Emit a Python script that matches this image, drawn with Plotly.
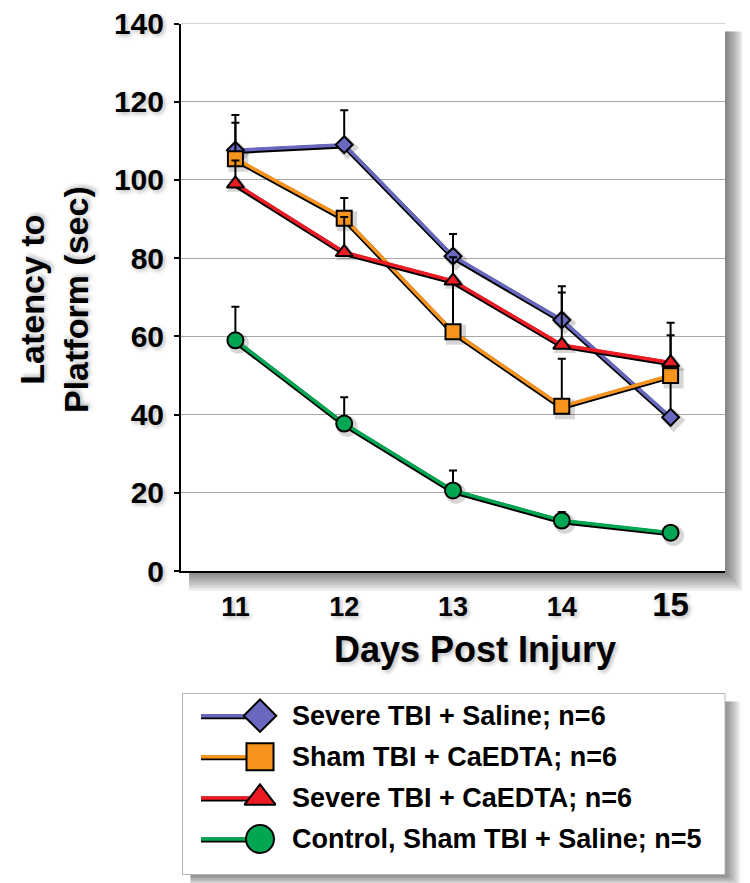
import plotly.graph_objects as go

# ---------------- data ----------------
days = [11, 12, 13, 14, 15]
tick_labels = ["11", "12", "13", "14", "15"]
y_ticks = [0, 20, 40, 60, 80, 100, 120, 140]

series_names = [
    "Severe TBI + Saline; n=6",
    "Sham TBI + CaEDTA; n=6",
    "Severe TBI + CaEDTA; n=6",
    "Control, Sham TBI + Saline; n=5",
]
severe_saline = [107.6, 109.0, 80.5, 64.2, 39.3]
severe_saline_err = [9.0, 8.8, 5.7, 8.6, 11.0]
sham_caedta = [105.4, 90.2, 61.2, 42.1, 50.0]
sham_caedta_err = [9.2, 5.2, 13.0, 12.2, 10.3]
severe_caedta = [99.0, 81.5, 74.2, 57.8, 53.3]
severe_caedta_err = [6.0, 9.0, 6.0, 13.4, 10.2]
control = [59.0, 37.7, 20.6, 12.9, 9.8]
control_err = [8.6, 6.7, 5.1, 2.2, 0.8]

# ---------------- style ----------------
OFF = 8                      # page body margin of the html page
W, H = 750 - OFF, 883 - OFF  # figure size so the page fits the window
FONT = "Liberation Sans, Arial, Helvetica, sans-serif"
colors = ["#6868BE", "#F7941D", "#ED1C24", "#00A651"]
symbols = ["diamond", "square", "triangle-up", "circle"]
msizes = [13, 15, 15, 16]
leg_msizes = [25, 27, 27, 28]
values = [severe_saline, sham_caedta, severe_caedta, control]
errors = [severe_saline_err, sham_caedta_err, severe_caedta_err, control_err]

# plot area (window pixels)
PL, PR, PT, PB = 181, 725, 23.5, 571
X_RANGE = [10.5, 15.5]
Y_RANGE = [0, 140]
GRID = "#A8A8A8"
# legend box (window pixels)
LL, LR, LT, LB = 182.5, 725, 693.5, 874.5
leg_rows = [715.7, 756.8, 797.9, 839.0]
leg_line_x = [201, 260]
leg_text_x = 289.5

# pixel -> data unit factors, used for small style offsets (shadows)
ux = (X_RANGE[1] - X_RANGE[0]) / (PR - PL)
uy = (Y_RANGE[1] - Y_RANGE[0]) / (PB - PT)


def px(x):
    return (x - OFF) / W


def py(y):
    return 1 - (y - OFF) / H


TXT_SHADOW = "2px 2px 4px rgba(0,0,0,0.28)"

fig = go.Figure()

# main series
for name, col, sym, ms, v, e in zip(series_names, colors, symbols, msizes, values, errors):
    # soft marker shadow
    fig.add_trace(go.Scatter(
        x=[d + 3 * ux for d in days], y=[val - 3 * uy for val in v], mode="markers",
        marker=dict(symbol=sym, size=ms + 5, color="rgba(0,0,0,0.16)", line=dict(width=0)),
        hoverinfo="skip", showlegend=False, xaxis="x", yaxis="y"))
    fig.add_trace(go.Scatter(
        x=days, y=[val - 1.2 * uy for val in v], mode="lines",
        line=dict(color="black", width=5),
        hoverinfo="skip", showlegend=False, xaxis="x", yaxis="y"))
    fig.add_trace(go.Scatter(
        x=days, y=v, mode="lines+markers", name=name,
        line=dict(color=col, width=3.5),
        marker=dict(symbol=sym, size=ms, color=col, line=dict(color="black", width=2)),
        error_y=dict(type="data", symmetric=False, array=e, arrayminus=[0] * len(e),
                     color="black", thickness=2, width=4),
        showlegend=False, xaxis="x", yaxis="y"))

# manual legend glyphs (overlay axis in window pixels)
for i, (col, sym, ms) in enumerate(zip(colors, symbols, leg_msizes)):
    row = leg_rows[i]
    fig.add_trace(go.Scatter(
        x=leg_line_x, y=[row + 1, row + 1], mode="lines", line=dict(color="black", width=5),
        hoverinfo="skip", showlegend=False, xaxis="x2", yaxis="y2"))
    fig.add_trace(go.Scatter(
        x=leg_line_x, y=[row, row], mode="lines", line=dict(color=col, width=3.5),
        hoverinfo="skip", showlegend=False, xaxis="x2", yaxis="y2"))
    fig.add_trace(go.Scatter(
        x=[leg_line_x[1]], y=[row], mode="markers",
        marker=dict(symbol=sym, size=ms, color=col, line=dict(color="black", width=2)),
        hoverinfo="skip", showlegend=False, xaxis="x2", yaxis="y2"))

shapes = []
# plot area shadow
for k in range(10):
    shapes.append(dict(type="rect", xref="paper", yref="paper", layer="below",
                       x0=px(PL + 8), x1=px(PR + 2 + k * 1.8),
                       y0=py(PB + 2 + k * 2.0), y1=py(PT + 8),
                       fillcolor="black", opacity=0.06, line=dict(width=0)))
shapes.append(dict(type="rect", xref="paper", yref="paper", layer="below",
                   x0=px(PL), x1=px(PR), y0=py(PB), y1=py(PT),
                   fillcolor="white", line=dict(width=0)))
# top gridline (at the range end)
shapes.append(dict(type="line", xref="x domain", yref="y", layer="below",
                   x0=0, x1=1, y0=Y_RANGE[1], y1=Y_RANGE[1],
                   line=dict(color=GRID, width=1)))
# legend box shadow
for k in range(10):
    shapes.append(dict(type="rect", xref="paper", yref="paper", layer="below",
                       x0=px(LL + 8), x1=px(LR + 2 + k * 1.5),
                       y0=py(LB + 2 + k * 1.0), y1=py(LT + 8),
                       fillcolor="black", opacity=0.05, line=dict(width=0)))
shapes.append(dict(type="rect", xref="paper", yref="paper", layer="below",
                   x0=px(LL), x1=px(LR), y0=py(LB), y1=py(LT),
                   fillcolor="white", line=dict(color="#B4B4B4", width=1)))

annotations = []
for i, name in enumerate(series_names):
    annotations.append(dict(
        text=f"<b>{name}</b>", xref="paper", yref="paper",
        x=px(leg_text_x), y=py(leg_rows[i]), xanchor="left", yanchor="middle",
        showarrow=False, font=dict(family=FONT, size=27, color="black")))

annotations.append(dict(
    text="<b>Days Post Injury</b>", xref="paper", yref="paper",
    x=px(475), y=py(649), xanchor="center", yanchor="middle", showarrow=False,
    font=dict(family=FONT, size=36, color="black", shadow=TXT_SHADOW)))
annotations.append(dict(
    text="<b>Latency to<br>Platform (sec)</b>", xref="paper", yref="paper",
    x=px(54), y=py(300), xanchor="center", yanchor="middle", showarrow=False,
    textangle=-90,
    font=dict(family=FONT, size=34, color="black", shadow=TXT_SHADOW)))

xtext = [t if t != "15" else '<span style="font-size:33px">15</span>' for t in tick_labels]

fig.update_layout(
    width=W, height=H,
    margin=dict(l=0, r=0, t=0, b=0, pad=0, autoexpand=False),
    paper_bgcolor="white", plot_bgcolor="rgba(0,0,0,0)",
    font=dict(family=FONT, color="black"),
    showlegend=False,
    shapes=shapes, annotations=annotations,
    xaxis=dict(domain=[px(PL), px(PR)], range=X_RANGE, automargin=False,
               tickvals=days, ticktext=[f"<b>{t}</b>" for t in xtext],
               tickfont=dict(family=FONT, size=27, color="black", shadow=TXT_SHADOW),
               showgrid=False, zeroline=False, showline=True, linecolor="black",
               linewidth=2, ticks="", ticklabelstandoff=11, ticklabeloverflow="allow",
               anchor="y"),
    yaxis=dict(domain=[py(PB), py(PT)], range=Y_RANGE, tickvals=y_ticks, automargin=False,
               ticktext=[f"<b>{t}</b>" for t in y_ticks],
               tickfont=dict(family=FONT, size=30, color="black", shadow=TXT_SHADOW),
               showgrid=True, gridcolor=GRID, gridwidth=1,
               zeroline=False, showline=True, linecolor="black", linewidth=2,
               ticks="outside", ticklen=5, tickwidth=2, tickcolor="black",
               ticklabelstandoff=4, ticklabeloverflow="allow", anchor="x"),
    xaxis2=dict(domain=[0, 1], range=[OFF, OFF + W], visible=False, anchor="y2",
                automargin=False),
    yaxis2=dict(domain=[0, 1], range=[OFF + H, OFF], visible=False, anchor="x2",
                automargin=False),
)

fig.write_html("out.html")
